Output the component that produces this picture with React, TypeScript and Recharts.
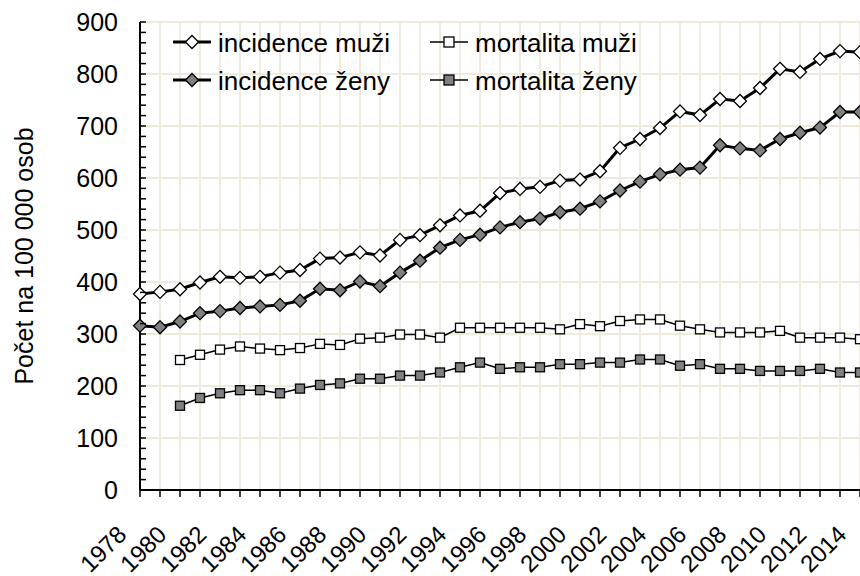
import React from "react"
import { CartesianGrid, Legend, Line, LineChart, XAxis, YAxis } from "recharts"

const years = [
  1978, 1979, 1980, 1981, 1982, 1983, 1984, 1985, 1986, 1987, 1988, 1989, 1990,
  1991, 1992, 1993, 1994, 1995, 1996, 1997, 1998, 1999, 2000, 2001, 2002, 2003,
  2004, 2005, 2006, 2007, 2008, 2009, 2010, 2011, 2012, 2013, 2014,
]

const incidenceMuzi = [
  377, 381, 386, 399, 410, 408, 410, 418, 423, 445, 447, 457, 451, 481, 490, 509,
  528, 537, 571, 579, 583, 595, 597, 613, 658, 675, 696, 728, 721, 752, 748, 773,
  810, 804, 829, 844, 842,
]

const incidenceZeny = [
  316, 313, 324, 340, 344, 350, 353, 356, 364, 387, 384, 401, 392, 418, 441, 466,
  481, 491, 505, 515, 522, 534, 541, 555, 576, 593, 607, 616, 620, 663, 657, 653,
  675, 687, 697, 727, 727,
]

const mortalitaMuzi = [
  null, null, 250, 260, 270, 276, 272, 269, 273, 281, 279, 291, 293, 299, 299, 293,
  312, 312, 312, 312, 312, 309, 319, 315, 325, 328, 328, 316, 309, 303, 303, 303,
  306, 293, 293, 293, 290,
]

const mortalitaZeny = [
  null, null, 162, 177, 186, 192, 192, 186, 195, 202, 205, 214, 214, 220, 220, 226,
  236, 245, 233, 236, 236, 242, 242, 245, 245, 251, 251, 239, 242, 233, 233, 229,
  229, 229, 233, 226, 226,
]

const yearLabels = [
  "1978", "1980", "1982", "1984", "1986", "1988", "1990", "1992", "1994", "1996",
  "1998", "2000", "2002", "2004", "2006", "2008", "2010", "2012", "2014",
]

const yTicks = [0, 100, 200, 300, 400, 500, 600, 700, 800, 900]
const minorTicks = Array.from({ length: 46 }, (_, i) => i * 20)

const FONT = '"Liberation Sans", Arial, sans-serif'
const GREY = "#808080"
const GRID = "#eeeadc"

const data = years.map((year, i) => ({
  year,
  incM: incidenceMuzi[i],
  incZ: incidenceZeny[i],
  morM: mortalitaMuzi[i],
  morZ: mortalitaZeny[i],
}))

function diamondPoints(cx: number, cy: number, r: number) {
  return `${cx},${cy - r} ${cx + r},${cy} ${cx},${cy + r} ${cx - r},${cy}`
}

const renderDiamond = (fill: string) => (props: any) => {
  const { cx, cy, index } = props
  if (cx == null || cy == null || props.value == null) return <g key={`d${index}`} />
  return (
    <polygon
      key={`d${index}`}
      points={diamondPoints(cx, cy, 6.5)}
      fill={fill}
      stroke="#000"
      strokeWidth={1.3}
    />
  )
}

const renderSquare = (fill: string) => (props: any) => {
  const { cx, cy, index } = props
  if (cx == null || cy == null || props.value == null) return <g key={`s${index}`} />
  return (
    <rect
      key={`s${index}`}
      x={cx - 4.5}
      y={cy - 4.5}
      width={9}
      height={9}
      fill={fill}
      stroke="#000"
      strokeWidth={1.3}
    />
  )
}

function YearTick(props: any) {
  const { x, y, payload } = props
  if (!yearLabels.includes(String(payload.value))) return <g />
  const ax = x - 12
  const ay = y + 37
  return (
    <text
      x={ax}
      y={ay}
      textAnchor="end"
      transform={`rotate(-45, ${ax}, ${ay})`}
      fontSize={24}
      fontFamily={FONT}
      fill="#000"
    >
      {payload.value}
    </text>
  )
}

// y ticks every 20: small mark inside the plot, label only on hundreds
function ValueTick(props: any) {
  const { x, y, payload } = props
  const axisX = x + 22
  const showLabel = yTicks.includes(payload.value)
  return (
    <g>
      <line x1={axisX} y1={y} x2={axisX + 6} y2={y} stroke="#000" strokeWidth={1.5} />
      {showLabel && (
        <text x={x} y={y + 9} textAnchor="end" fontSize={25} fontFamily={FONT} fill="#000">
          {payload.value}
        </text>
      )}
    </g>
  )
}

const legendItems = [
  { label: "incidence muži", col: 0, row: 0, shape: "diamond", fill: "#fff", lw: 3 },
  { label: "incidence ženy", col: 0, row: 1, shape: "diamond", fill: GREY, lw: 3 },
  { label: "mortalita muži", col: 1, row: 0, shape: "square", fill: "#fff", lw: 1.5 },
  { label: "mortalita ženy", col: 1, row: 1, shape: "square", fill: GREY, lw: 1.5 },
]

function LegendBox() {
  return (
    <svg width={500} height={80} style={{ display: "block" }}>
      {legendItems.map((it) => {
        const x0 = it.col === 0 ? 13 : 270
        const cy = it.row === 0 ? 22 : 60
        const mx = x0 + 19
        return (
          <g key={it.label}>
            <line x1={x0} y1={cy} x2={x0 + 38} y2={cy} stroke="#000" strokeWidth={it.lw} />
            {it.shape === "diamond" ? (
              <polygon points={diamondPoints(mx, cy, 6.5)} fill={it.fill} stroke="#000" strokeWidth={1.3} />
            ) : (
              <rect x={mx - 5} y={cy - 5} width={10} height={10} fill={it.fill} stroke="#000" strokeWidth={1.3} />
            )}
            <text x={x0 + 45} y={cy + 10} fontSize={26} fontFamily={FONT} fill="#000">
              {it.label}
            </text>
          </g>
        )
      })}
    </svg>
  )
}

function YLabel(props: any) {
  const vb = props.viewBox
  const cx = vb.x + 33
  const cy = vb.y + vb.height / 2
  return (
    <text
      x={cx}
      y={cy}
      textAnchor="middle"
      transform={`rotate(-90, ${cx}, ${cy})`}
      fontSize={25}
      fontFamily={FONT}
      fill="#000"
    >
      Počet na 100 000 osob
    </text>
  )
}

export default function App() {
  return (
    <div style={{ position: "absolute", left: 0, top: 0, width: 860, height: 576, background: "#fff" }}>
      <LineChart width={860} height={576} data={data} margin={{ top: 22, right: 0, bottom: 0, left: 0 }}>
        <CartesianGrid stroke={GRID} strokeWidth={1.8} horizontalValues={yTicks} />
        <XAxis
          dataKey="year"
          type="number"
          domain={[1978, 2014]}
          ticks={years}
          interval={0}
          height={86}
          tickSize={7}
          tick={<YearTick />}
          tickLine={{ stroke: "#000", strokeWidth: 1.5 }}
          axisLine={{ stroke: "#000", strokeWidth: 2 }}
        />
        <YAxis
          domain={[0, 900]}
          ticks={minorTicks}
          interval={0}
          width={140}
          tickLine={false}
          tickSize={0}
          tickMargin={22}
          axisLine={{ stroke: "#000", strokeWidth: 2 }}
          tick={<ValueTick />}
          label={{ content: <YLabel /> }}
        />
        <Legend
          layout="horizontal"
          verticalAlign="middle"
          align="center"
          wrapperStyle={{ top: 20, left: 160, width: 500, height: 80 }}
          content={() => <LegendBox />}
        />
        <Line
          dataKey="morM"
          name="mortalita muži"
          stroke="#000"
          strokeWidth={1.5}
          dot={renderSquare("#fff")}
          activeDot={false}
          isAnimationActive={false}
        />
        <Line
          dataKey="morZ"
          name="mortalita ženy"
          stroke="#000"
          strokeWidth={1.5}
          dot={renderSquare(GREY)}
          activeDot={false}
          isAnimationActive={false}
        />
        <Line
          dataKey="incM"
          name="incidence muži"
          stroke="#000"
          strokeWidth={3}
          dot={renderDiamond("#fff")}
          activeDot={false}
          isAnimationActive={false}
        />
        <Line
          dataKey="incZ"
          name="incidence ženy"
          stroke="#000"
          strokeWidth={3}
          dot={renderDiamond(GREY)}
          activeDot={false}
          isAnimationActive={false}
        />
      </LineChart>
    </div>
  )
}
